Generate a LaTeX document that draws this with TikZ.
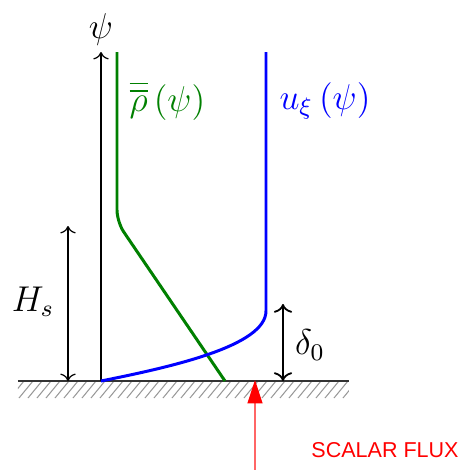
\documentclass[tikz,border=0pt]{standalone}
\usepackage{amsmath,amssymb}
\usepackage{fontspec}
\setsansfont{Liberation Sans}
\usepackage{tikz}
\usetikzlibrary{arrows.meta,positioning,calc}
\usepackage{xcolor}
\definecolor{profgreen}{RGB}{0,128,0}
\definecolor{fluxred}{RGB}{255,0,0}

\begin{document}
\begin{tikzpicture}[x=0.1176cm, y=0.1176cm,
    every node/.style={font=\large},
    profile/.style={line width=1pt, rounded corners=4pt},
    dim/.style={thin, <->},
    hatch/.style={gray!80, line width=0.35pt}]

    \useasboundingbox (-10.1,-8.9) rectangle (36.1,38.1);

    % ground and axis
    \coordinate (O) at (0,0);
    \coordinate (gl) at (-8.3,0);
    \coordinate (gr) at (24.8,0);
    \coordinate (top) at (0,32.9);
    \node (psi) at (0,35.1) {$\psi$};

    \begin{scope}
        \clip (-8.3,-1.7) rectangle (24.8,0);
        \foreach \x in {-10,-9.1,...,25}
            \draw[hatch] (\x,-1.7) -- ++(1.4,1.7);
    \end{scope}
    \draw[thin, black!80] (gl) -- (gr);
    \draw[thin, ->] (O) -- (top);

    % density profile
    \draw[profile, profgreen] (1.6,32.9) -- (1.6,15.9) -- (12.4,0);
    \node[text=profgreen] (rho) at (6.65,28.0) {$\overline{\overline{\rho}}\,(\psi)$};

    % velocity profile
    \draw[profile, blue] (16.5,32.9) -- (16.5,8.2)
        .. controls (16.5,3.5) and (7,1.4) .. (O);
    \node[text=blue] (uxi) at (22.4,28.0) {$u_\xi\,(\psi)$};

    % heights
    \coordinate (hsb) at (-3.3,0);
    \coordinate (hst) at (-3.3,15.5);
    \draw[dim] (hsb) -- (hst);
    \node (hs) at (-6.8,7.9) {$H_s$};

    \coordinate (db) at (18.2,0);
    \coordinate (dt) at (18.2,7.7);
    \draw[dim, line width=0.6pt] (db) -- (dt);
    \node (delta) at (20.9,3.6) {$\delta_0$};

    % scalar flux
    \coordinate (fb) at (15.4,-8.9);
    \coordinate (ft) at (15.4,0.1);
    \draw[fluxred!60, line width=0.4pt, -{Triangle[width=5pt,length=7.8pt,color=fluxred,fill=fluxred]}] (fb) -- (ft);
    \node[text=fluxred, font=\fontsize{7.2}{8}\selectfont\sffamily] (flux) at (28.4,-6.9) {SCALAR FLUX};
\end{tikzpicture}
\end{document}
